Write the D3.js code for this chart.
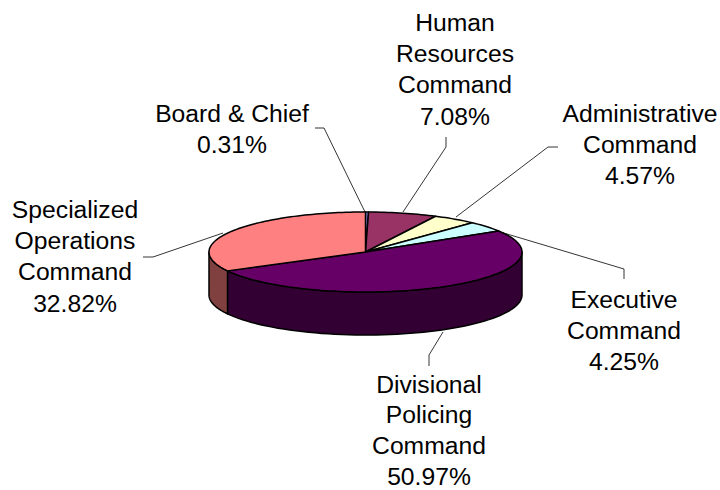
<!DOCTYPE html>
<html><head><meta charset="utf-8">
<script src="https://cdn.jsdelivr.net/npm/d3@7"></script>
<style>html,body{margin:0;padding:0;background:#fff}svg{display:block}text{font-family:"Liberation Sans",Arial,sans-serif;font-size:24.7px;fill:#000;text-anchor:middle}</style>
</head><body><svg width="720" height="490"></svg>
<script>
const categories=["Board & Chief","Human Resources Command","Administrative Command","Executive Command","Divisional Policing Command","Specialized Operations Command"];
const values=[0.31,7.08,4.57,4.25,50.97,32.82];
const topColors=["#9999FF","#993366","#FFFFCC","#CCFFFF","#660066","#FF8080"];
const sideColors=["#4D4D80","#4D1A33","#808066","#668080","#330033","#804040"];
const labelLines=[["Board & Chief","0.31%"],["Human","Resources","Command","7.08%"],["Administrative","Command","4.57%"],["Executive","Command","4.25%"],["Divisional","Policing","Command","50.97%"],["Specialized","Operations","Command","32.82%"]];
const labelAnchors=[[232,122],[455,31],[640,122],[624,307.5],[429,392.8],[75,218]];
const labelLeading=[31.2,31.2,31.2,31.2,30.6,31.2];
const leaders=[[[365,212],[324,128],[315,128]],[[403,212],[446,147],[446,137]],[[456,217],[548,147],[558,147]],[[497,231],[624,269],[624,279]],[[443,332],[429,355],[429,366]],[[223,233],[153,257],[143,257]]];
const cx=365.5,cy=252,rx=156.5,ry=40,depth=43;
const svg=d3.select("svg");
const pie=d3.pie().sort(null).value(d=>d)(values);
const sx=d3.scaleLinear().domain([-1,1]).range([cx-rx,cx+rx]);
const sy=d3.scaleLinear().domain([-1,1]).range([cy-ry,cy+ry]);
const px=a=>sx(Math.sin(a)),py=a=>sy(-Math.cos(a));
const line=d3.line();
pie.forEach((s,i)=>{
  const a0=Math.max(s.startAngle,Math.PI/2),a1=Math.min(s.endAngle,Math.PI*1.5);
  if(a1<=a0)return;
  const as=d3.range(0,61).map(k=>a0+(a1-a0)*k/60);
  const pts=as.map(a=>[px(a),py(a)]).concat(as.slice().reverse().map(a=>[px(a),py(a)+depth]));
  svg.append("path").attr("d",line(pts)+"Z").attr("fill",sideColors[i]).attr("stroke","#000").attr("stroke-width",1.5).attr("stroke-linejoin","round");
});
pie.forEach((s,i)=>{
  const n=Math.max(8,Math.ceil((s.endAngle-s.startAngle)*40));
  const pts=[[sx(0),sy(0)]].concat(d3.range(0,n+1).map(k=>{const a=s.startAngle+(s.endAngle-s.startAngle)*k/n;return[px(a),py(a)];}));
  svg.append("path").attr("d",line(pts)+"Z").attr("fill",topColors[i]).attr("stroke","#000").attr("stroke-width",1.5).attr("stroke-linejoin","round");
});
leaders.forEach(l=>svg.append("path").attr("d",line(l)).attr("fill","none").attr("stroke","#000").attr("stroke-width",0.8));
labelLines.forEach((ls,i)=>{
  const t=svg.append("text");
  ls.forEach((s,j)=>t.append("tspan").attr("x",labelAnchors[i][0]).attr("y",labelAnchors[i][1]+j*labelLeading[i]).text(s));
});
</script></body></html>
